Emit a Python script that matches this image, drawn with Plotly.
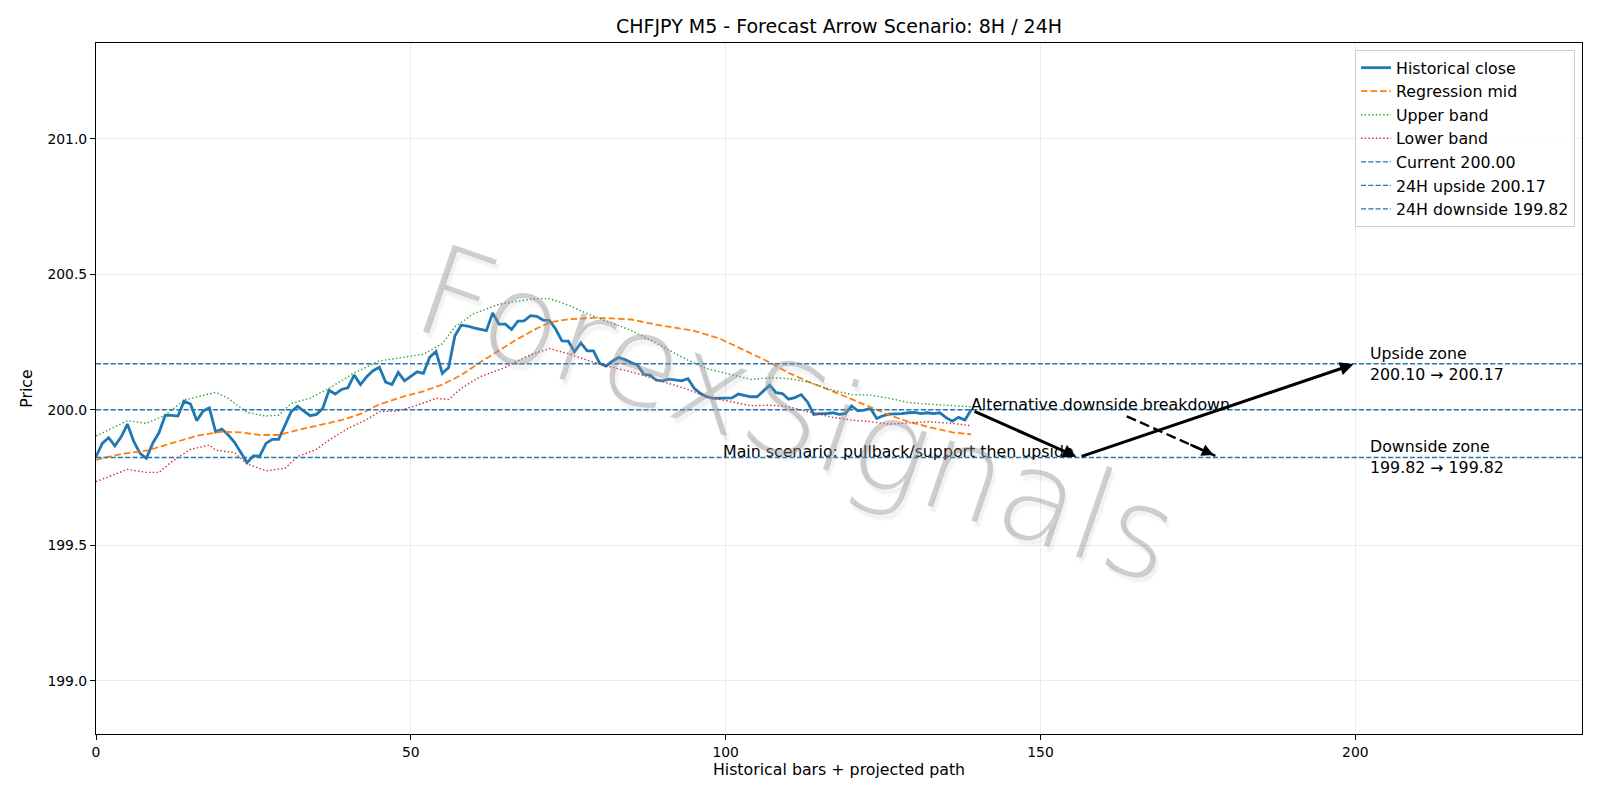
import plotly.graph_objects as go

# ---------------- data ----------------
hist_close = [
    199.827, 199.876, 199.897, 199.867, 199.900, 199.947, 199.883, 199.839, 199.821, 199.876,
    199.915, 199.980, 199.979, 199.977, 200.032, 200.021, 199.960, 199.995, 200.007, 199.919,
    199.929, 199.907, 199.880, 199.842, 199.805, 199.830, 199.829, 199.876, 199.891, 199.891,
    199.944, 199.993, 200.013, 199.995, 199.978, 199.983, 200.005, 200.072, 200.058, 200.075,
    200.081, 200.128, 200.093, 200.122, 200.144, 200.157, 200.102, 200.093, 200.138, 200.107,
    200.122, 200.140, 200.134, 200.194, 200.215, 200.134, 200.156, 200.273, 200.312, 200.309,
    200.302, 200.296, 200.292, 200.357, 200.316, 200.316, 200.296, 200.327, 200.328, 200.347,
    200.345, 200.331, 200.330, 200.298, 200.254, 200.253, 200.214, 200.247, 200.217, 200.217,
    200.171, 200.161, 200.179, 200.193, 200.185, 200.174, 200.165, 200.131, 200.128, 200.109,
    200.107, 200.113, 200.109, 200.107, 200.115, 200.079, 200.060, 200.048, 200.042, 200.042,
    200.044, 200.044, 200.058, 200.052, 200.048, 200.048, 200.069, 200.091, 200.063, 200.060,
    200.039, 200.045, 200.056, 200.029, 199.983, 199.986, 199.986, 199.989, 199.983, 199.986,
    200.014, 199.996, 199.999, 200.005, 199.968, 199.978, 199.984, 199.984, 199.986, 199.989,
    199.990, 199.986, 199.989, 199.986, 199.989, 199.971, 199.958, 199.972, 199.962, 200.000,
]
hist_x = list(range(len(hist_close)))

mid_x = [0, 4, 8, 12, 16, 20, 23, 26, 29, 32, 35, 39, 42, 45, 49, 52, 55, 58, 61, 64, 67,
         70, 72, 75, 79, 82, 85, 89, 92, 95, 99, 102, 105, 107, 110, 113, 117, 120, 123,
         126, 129, 133, 136, 139]
mid_y = [199.815, 199.837, 199.849, 199.876, 199.904, 199.919, 199.917, 199.907, 199.907,
         199.925, 199.941, 199.962, 199.985, 200.020, 200.050, 200.068, 200.093, 200.128,
         200.175, 200.220, 200.262, 200.300, 200.322, 200.334, 200.339, 200.337, 200.333,
         200.314, 200.302, 200.291, 200.263, 200.230, 200.200, 200.175, 200.136, 200.105,
         200.068, 200.040, 200.010, 199.980, 199.956, 199.932, 199.917, 199.909]

upper_x = [0, 2, 5, 8, 11, 14, 19, 21, 24, 27, 29, 31, 34, 37, 41, 45, 49, 52, 55, 57, 60,
           64, 67, 70, 72, 75, 78, 82, 85, 88, 91, 94, 97, 101, 104, 107, 110, 113, 117,
           120, 123, 126, 129, 132, 136, 139]
upper_y = [199.903, 199.925, 199.960, 199.950, 199.980, 200.036, 200.064, 200.042, 199.990,
           199.977, 199.980, 200.023, 200.043, 200.079, 200.136, 200.180, 200.195, 200.205,
           200.244, 200.306, 200.355, 200.389, 200.401, 200.410, 200.410, 200.386, 200.355,
           200.320, 200.293, 200.257, 200.220, 200.183, 200.152, 200.128, 200.112, 200.118,
           200.115, 200.103, 200.072, 200.056, 200.054, 200.042, 200.027, 200.021, 200.014,
           200.011]

lower_x = [0, 2, 5, 8, 10, 12, 15, 18, 19, 22, 24, 27, 30, 32, 35, 37, 40, 43, 45, 48, 51,
           54, 56, 58, 61, 65, 68, 70, 72, 75, 78, 82, 85, 88, 91, 94, 97, 101, 104, 107,
           110, 113, 117, 120, 123, 126, 129, 132, 136, 139]
lower_y = [199.735, 199.753, 199.780, 199.769, 199.769, 199.808, 199.854, 199.870, 199.851,
           199.842, 199.800, 199.775, 199.784, 199.827, 199.854, 199.888, 199.931, 199.964,
           199.993, 199.996, 200.017, 200.042, 200.038, 200.079, 200.122, 200.156, 200.193,
           200.210, 200.226, 200.207, 200.183, 200.156, 200.140, 200.119, 200.097, 200.075,
           200.048, 200.029, 200.015, 200.017, 200.011, 199.993, 199.972, 199.962, 199.956,
           199.947, 199.952, 199.956, 199.950, 199.941]

current_level = 200.00
upside_level = 200.17
downside_level = 199.824
level_names = ["Current 200.00", "24H upside 200.17", "24H downside 199.82"]

# main scenario path (start -> support -> upside target)
main_path_x = [139, 156, 200]
main_path_y = [200.00, 199.824, 200.17]
# alternative (dashed) breakdown arrow
alt_x = [163.7, 177.8]
alt_y = [199.976, 199.83]

zone_x = 202
upside_zone_text = "Upside zone<br>200.10 → 200.17"
downside_zone_text = "Downside zone<br>199.82 → 199.82"
main_text = "Main scenario: pullback/support then upside"
alt_text = "Alternative downside breakdown"
watermark = "ForexSignals"

x_range = [0, 236]
y_range = [198.804, 201.353]
x_ticks = [0, 50, 100, 150, 200]
y_ticks = [199.0, 199.5, 200.0, 200.5, 201.0]

FONT = "DejaVu Sans"
BLUE = "#1f77b4"
TXT = 15.8

fig = go.Figure()
fig.add_trace(go.Scatter(x=hist_x, y=hist_close, mode="lines", name="Historical close",
                         line=dict(color=BLUE, width=2.8)))
fig.add_trace(go.Scatter(x=mid_x, y=mid_y, mode="lines", name="Regression mid",
                         line=dict(color="#ff7f0e", width=1.8, dash="6.5px,3px")))
fig.add_trace(go.Scatter(x=upper_x, y=upper_y, mode="lines", name="Upper band",
                         line=dict(color="#2ca02c", width=1.4, dash="1.4px,2.3px")))
fig.add_trace(go.Scatter(x=lower_x, y=lower_y, mode="lines", name="Lower band",
                         line=dict(color="#d62728", width=1.4, dash="1.4px,2.3px")))
for lvl, nm in zip([current_level, upside_level, downside_level], level_names):
    fig.add_trace(go.Scatter(x=x_range, y=[lvl, lvl], mode="lines", name=nm,
                             line=dict(color=BLUE, width=1.4, dash="5.1px,2.2px")))

annotations = []
# main scenario arrows
for i in range(len(main_path_x) - 1):
    annotations.append(dict(x=main_path_x[i + 1], y=main_path_y[i + 1], xref="x", yref="y",
                            ax=main_path_x[i], ay=main_path_y[i], axref="x", ayref="y",
                            showarrow=True, arrowhead=2, arrowsize=0.9, arrowwidth=3.0,
                            arrowcolor="black", standoff=2, startstandoff=2, text=""))
# dashed alt arrow head
annotations.append(dict(x=alt_x[1], y=alt_y[1], xref="x", yref="y",
                        ax=alt_x[1] - 0.3 * (alt_x[1] - alt_x[0]),
                        ay=alt_y[1] - 0.3 * (alt_y[1] - alt_y[0]),
                        axref="x", ayref="y", showarrow=True, arrowhead=2, arrowsize=1.0,
                        arrowwidth=2.4, arrowcolor="black", standoff=2, text=""))
# texts
annotations.append(dict(x=main_path_x[1], y=main_path_y[1], xref="x", yref="y",
                        text=main_text, showarrow=False, xanchor="right", yanchor="middle",
                        yshift=6, xshift=-2, font=dict(size=TXT, color="black")))
annotations.append(dict(x=main_path_x[0], y=main_path_y[0], xref="x", yref="y",
                        text=alt_text, showarrow=False, xanchor="left", yanchor="middle",
                        yshift=5, xshift=-2, font=dict(size=TXT, color="black")))
annotations.append(dict(x=zone_x, y=upside_level, xref="x", yref="y", text=upside_zone_text,
                        showarrow=False, xanchor="left", yanchor="middle", align="left",
                        font=dict(size=TXT, color="black")))
annotations.append(dict(x=zone_x, y=downside_level, xref="x", yref="y", text=downside_zone_text,
                        showarrow=False, xanchor="left", yanchor="middle", align="left",
                        font=dict(size=TXT, color="black")))
# watermark
annotations.append(dict(x=0.472, y=0.462, xref="paper", yref="paper", text=watermark,
                        showarrow=False, textangle=19, xanchor="center", yanchor="middle",
                        font=dict(family="DejaVu Sans", size=126, weight=200,
                                  color="rgba(140,140,140,0.42)",
                                  shadow="4px 4px 2px rgba(180,180,180,0.4)")))

shapes = [dict(type="line", xref="x", yref="y", x0=alt_x[0], y0=alt_y[0], x1=alt_x[1],
               y1=alt_y[1], line=dict(color="black", width=2.4, dash="10px,4.5px"))]

fig.update_layout(
    width=1600, height=800,
    margin=dict(l=96, r=18, t=43, b=66),
    paper_bgcolor="white", plot_bgcolor="white",
    font=dict(family=FONT, size=TXT, color="black"),
    title=dict(text="CHFJPY M5 - Forecast Arrow Scenario: 8H / 24H", x=0.5244, xanchor="center",
               y=1 - 26.5 / 800, yanchor="middle", font=dict(size=19, color="black")),
    legend=dict(x=0.9953, y=0.99, xanchor="right", yanchor="top",
                bgcolor="rgba(255,255,255,0.8)", bordercolor="#cccccc", borderwidth=1,
                font=dict(size=TXT), tracegroupgap=0, itemwidth=30),
    annotations=annotations,
    shapes=shapes,
    showlegend=True,
)
fig.update_xaxes(range=x_range, tickvals=x_ticks, showgrid=True, gridcolor="#ebebeb",
                 gridwidth=1, zeroline=False, showline=True, mirror=True, linecolor="black",
                 linewidth=1.1, ticks="outside", ticklen=5, tickwidth=1.1, tickcolor="black",
                 tickfont=dict(size=13.9), title=dict(text="Historical bars + projected path",
                                                      standoff=5, font=dict(size=TXT)))
fig.update_yaxes(range=y_range, tickvals=y_ticks, tickformat=".1f", showgrid=True,
                 gridcolor="#ebebeb", gridwidth=1, zeroline=False, showline=True, mirror=True,
                 linecolor="black", linewidth=1.1, ticks="outside", ticklen=5, tickwidth=1.1,
                 tickcolor="black", tickfont=dict(size=13.9),
                 title=dict(text="Price", standoff=10, font=dict(size=TXT)))

fig.write_html("out.html")
